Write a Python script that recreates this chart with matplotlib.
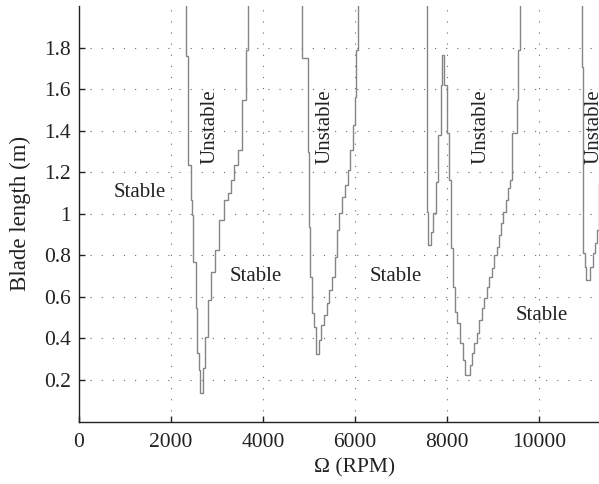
import numpy as np
import matplotlib.pyplot as plt

plt.rcParams['font.family'] = ['Liberation Serif', 'DejaVu Serif']

# Stability lobe boundaries: each lobe is a staircase, given as the rotor
# speed of every vertical step (RPM) and the blade-length breakpoints (m)
# between consecutive steps (one more breakpoint than steps).
lobe1_rpm = [2326, 2370, 2428, 2448, 2485, 2537, 2572, 2609, 2637,
             2685, 2739, 2804, 2870, 2957, 3044, 3152, 3239, 3304, 3370,
             3457, 3544, 3631, 3668]
lobe1_len = [2.0, 1.757, 1.236, 1.067, 0.995, 0.769, 0.547, 0.330, 0.248,
             0.137, 0.258, 0.407, 0.586, 0.720, 0.827, 0.971, 1.067, 1.101,
             1.164, 1.236, 1.308, 1.549, 1.790, 2.0]

lobe2_rpm = [4855, 4968, 4990, 5022, 5065, 5109, 5152,
             5218, 5261, 5326, 5385, 5442, 5507, 5566, 5603, 5659, 5709,
             5783, 5848, 5891, 5963, 6000, 6022, 6059]
lobe2_len = [2.0, 1.752, 1.299, 0.937, 0.696, 0.523, 0.455, 0.325,
             0.393, 0.465, 0.513, 0.571, 0.634, 0.696, 0.793, 0.923, 1.005,
             1.082, 1.140, 1.212, 1.308, 1.429, 1.564, 1.790, 2.0]

lobe3_rpm = [7559, 7593,
             7646, 7703, 7761, 7811, 7870, 7898,
             7942, 7994, 8050, 8087, 8137, 8174, 8224, 8283, 8342, 8392,
             8500, 8550, 8594, 8646, 8703, 8755, 8805, 8863, 8913, 8972,
             9022, 9081, 9131, 9174, 9224, 9283, 9320, 9370, 9413, 9516,
             9550, 9587]
lobe3_len = [2.0, 1.010, 0.851,
             0.913, 1.005, 1.154, 1.381, 1.622, 1.766,
             1.622, 1.390, 1.164, 0.836, 0.648, 0.528, 0.475, 0.378, 0.296,
             0.224,
             0.272, 0.330, 0.378, 0.427, 0.489, 0.547, 0.595, 0.648, 0.696,
             0.740, 0.802, 0.841, 0.899, 0.957, 1.010, 1.067, 1.125, 1.164,
             1.390, 1.549, 1.790, 2.0]

lobe4_rpm = [10928, 10963, 11000, 11022,
             11110, 11168, 11218, 11255, 11300, 11420, 11560]
lobe4_len = [2.0, 1.708, 0.812, 0.745, 0.682,
             0.745, 0.812, 0.860, 0.923, 1.150, 1.600, 2.0]

x_ticks = [0, 2000, 4000, 6000, 8000, 10000]
y_ticks = [0.2, 0.4, 0.6, 0.8, 1.0, 1.2, 1.4, 1.6, 1.8]
y_tick_labels = ['0.2', '0.4', '0.6', '0.8', '1', '1.2', '1.4', '1.6', '1.8']

stable_labels = [(1330, 1.10), (3850, 0.70), (6890, 0.70), (10070, 0.51)]
unstable_labels = [(2850, 1.42), (5350, 1.42), (8740, 1.42), (11200, 1.42)]


def staircase(levels, breaks):
    levels = np.asarray(levels, dtype=float)
    breaks = np.asarray(breaks, dtype=float)
    x = np.repeat(levels, 2)
    y = np.column_stack([breaks[:-1], breaks[1:]]).ravel()
    return x, y


W, H = 599, 484
fig = plt.figure(figsize=(W / 100, H / 100), dpi=100)
ax_left = 79 / W
ax_bottom = (H - 421.5) / H
ax_height = 415.5 / H
ax_width = 552 / W  # 0..12000 RPM, right part falls outside the canvas
ax = fig.add_axes([ax_left, ax_bottom, ax_width, ax_height])

line_kw = dict(color='#858585', lw=1.0, solid_joinstyle='miter')
for rpm, length in [(lobe1_rpm, lobe1_len), (lobe2_rpm, lobe2_len),
                    (lobe3_rpm, lobe3_len), (lobe4_rpm, lobe4_len)]:
    x, y = staircase(rpm, length)
    ax.plot(x, y, **line_kw)

ax.set_xlim(0, 12000)
ax.set_ylim(0, 2.0)
ax.set_xticks(x_ticks)
ax.set_xticklabels([str(t) for t in x_ticks])
ax.set_yticks(y_ticks)
ax.set_yticklabels(y_tick_labels)

ax.grid(True, color='#6a6a6a', lw=0.8, linestyle=(0, (1, 9)))
ax.set_axisbelow(True)

for side in ('top', 'right'):
    ax.spines[side].set_visible(False)
for side in ('left', 'bottom'):
    ax.spines[side].set_linewidth(1.0)
    ax.spines[side].set_color('#222222')

ax.tick_params(direction='in', length=4, width=1.0, labelsize=15.5,
               colors='#222222')
ax.tick_params(axis='x', pad=8)
ax.tick_params(axis='y', pad=6)

ax.set_xlabel('Ω (RPM)', fontsize=15.5, labelpad=5, color='#222222')
ax.set_ylabel('Blade length (m)', fontsize=16.5, labelpad=9, color='#222222')

for x, y in stable_labels:
    ax.text(x, y, 'Stable', fontsize=15, ha='center', va='center',
            color='#222222')
for x, y in unstable_labels:
    ax.text(x, y, 'Unstable', fontsize=15, ha='center', va='center',
            rotation=90, color='#222222', clip_on=True)

fig.savefig('out.png', dpi=100)
